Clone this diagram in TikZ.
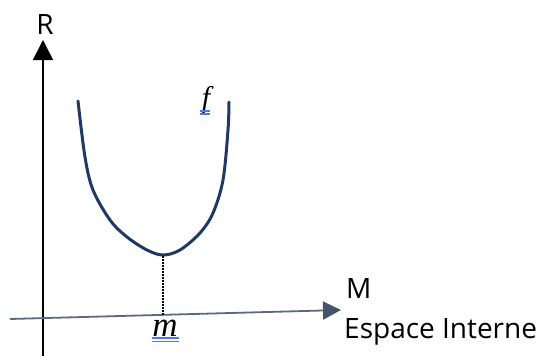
\documentclass[tikz,border=0pt]{standalone}
\usepackage{fontspec}
\setmainfont{Open Sans}
\newfontfamily\myitfont{Liberation Serif}
\usetikzlibrary{arrows.meta}
\definecolor{curvecol}{HTML}{1F3864}
\definecolor{axiscol}{HTML}{5A6B80}
\definecolor{arrowcol}{HTML}{44546A}
\definecolor{ulcol}{HTML}{3F7FEF}
\tikzset{
  lbl/.style={inner sep=0pt, font=\fontsize{28}{30}\selectfont},
  mathlbl/.style={inner sep=0pt, font=\fontsize{30}{32}\selectfont\myitfont\itshape},
  vaxis/.style={black, line width=1.6pt, -{Triangle[length=20pt,width=20pt]}},
  haxis/.style={axiscol, line width=1.8pt, -{Triangle[length=18pt,width=18pt,color=arrowcol,fill=arrowcol]}},
  fcurve/.style={curvecol, line width=3pt, line cap=round},
  dropline/.style={black, line width=1.3pt, dash pattern=on 2pt off 1pt},
  uline/.style={ulcol, line width=1.3pt}
}
\begin{document}
\begin{tikzpicture}[x=1pt,y=-1pt]
\useasboundingbox (0,0) rectangle (541,356);
% vertical axis
\coordinate (vb) at (43,358);
\coordinate (vt) at (43,40);
\draw[vaxis] (vb) -- (vt);
\node[lbl] (R) at (45,25) {R};
% horizontal axis
\coordinate (hl) at (10,319);
\coordinate (hr) at (341,310);
\draw[haxis] (hl) -- (hr);
\node[lbl, anchor=west] (M) at (346,289) {M};
\node[lbl, anchor=west] (E) at (344,332) {Espace Interne};
% curve
\draw[fcurve] plot[smooth, tension=0.55] coordinates {
  (78,101) (85,157) (93,190) (110,220) (127,237) (147,250) (163,255)
  (180,250) (200,233) (213,213) (223,180) (228,130) (229,102)};
% drop line
\coordinate (min) at (163,256);
\coordinate (foot) at (163,315);
\draw[dropline] (min) -- (foot);
% labels
\node[mathlbl, font=\fontsize{35}{36}\selectfont\myitfont\itshape] (m) at (165,328) {m};
\draw[uline] (152,338) -- (179,338);
\draw[uline] (152,341.5) -- (179,341.5);
\node[mathlbl] (f) at (206,100) {f};
\draw[uline] (200,111) -- (210,111);
\draw[uline] (200,114) -- (210,114);
\end{tikzpicture}
\end{document}
